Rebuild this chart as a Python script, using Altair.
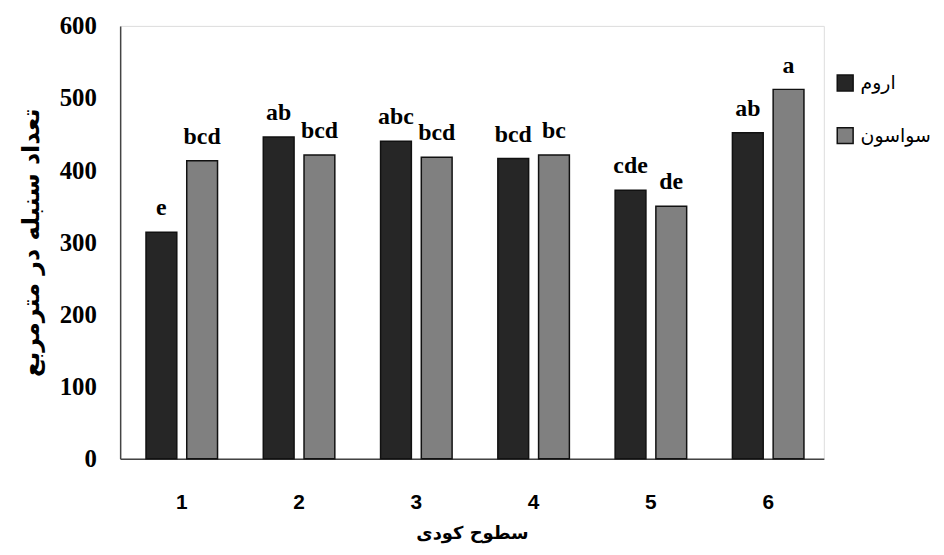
import altair as alt
import pandas as pd

levels = ["1", "2", "3", "4", "5", "6"]
series_names = ["اروم", "سواسون"]
urom = [314, 446, 440, 416, 372, 452]
savason = [413, 421, 418, 421, 350, 512]
urom_letters = ["e", "ab", "abc", "bcd", "cde", "ab"]
savason_letters = ["bcd", "bcd", "bcd", "bc", "de", "a"]

rows = []
for i, lv in enumerate(levels):
    rows.append({"level": lv, "series": series_names[0], "value": urom[i], "letter": urom_letters[i]})
    rows.append({"level": lv, "series": series_names[1], "value": savason[i], "letter": savason_letters[i]})
df = pd.DataFrame(rows)

x_enc = alt.X("level:N", sort=levels,
              scale=alt.Scale(paddingInner=0.39, paddingOuter=0.195, align=0.565),
              axis=alt.Axis(title="سطوح کودی", labelAngle=0, ticks=False, domainColor="#444444",
                            domainWidth=1.5, labelFont="Liberation Sans", labelFontWeight="bold",
                            labelFontSize=21, labelColor="#000000", labelPadding=33,
                            titleFont="DejaVu Sans", titleFontWeight="bold", titleFontSize=18,
                            titleColor="#000000", titlePadding=12))
xoff = alt.XOffset("series:N", sort=series_names,
                   scale=alt.Scale(paddingInner=0.244, paddingOuter=0))
y_enc = alt.Y("value:Q", scale=alt.Scale(domain=[0, 600]),
              axis=alt.Axis(title="تعداد سنبله در مترمربع", values=[0, 100, 200, 300, 400, 500, 600],
                            grid=False, ticks=False, domainColor="#444444", domainWidth=1.5,
                            labelFont="Liberation Serif", labelFontWeight="bold", labelFontSize=25,
                            labelColor="#000000", labelPadding=24,
                            titleFont="DejaVu Sans", titleFontWeight="bold", titleFontSize=24,
                            titleColor="#000000", titlePadding=16))

bars = alt.Chart(df).mark_bar(stroke="#111111", strokeWidth=1.5).encode(
    x=x_enc, xOffset=xoff, y=y_enc,
    color=alt.Color("series:N", sort=series_names,
                    scale=alt.Scale(domain=series_names, range=["#262626", "#808080"]),
                    legend=alt.Legend(title=None, orient="none", legendX=721, legendY=48,
                                      symbolType="square", symbolSize=256, symbolStrokeColor="#111111",
                                      symbolStrokeWidth=1.5, labelFont="DejaVu Sans",
                                      labelFontSize=19, labelColor="#000000",
                                      rowPadding=30, labelOffset=6, labelLimit=200))
)

labels = alt.Chart(df).mark_text(baseline="alphabetic", dy=-17, font="Liberation Serif",
                                 fontWeight="bold", fontSize=24, color="#000000").encode(
    x=alt.X("level:N", sort=levels), xOffset=alt.XOffset("series:N", sort=series_names),
    y="value:Q", text="letter:N"
)

chart = (bars + labels).properties(
    width=709, height=436,
    autosize=alt.AutoSizeParams(type="none"),
    padding={"left": 113, "top": 16, "right": 113, "bottom": 90},
).configure_view(stroke=None).configure(background="white")

chart.save("out.html", embed_options={"renderer": "svg", "actions": False})
